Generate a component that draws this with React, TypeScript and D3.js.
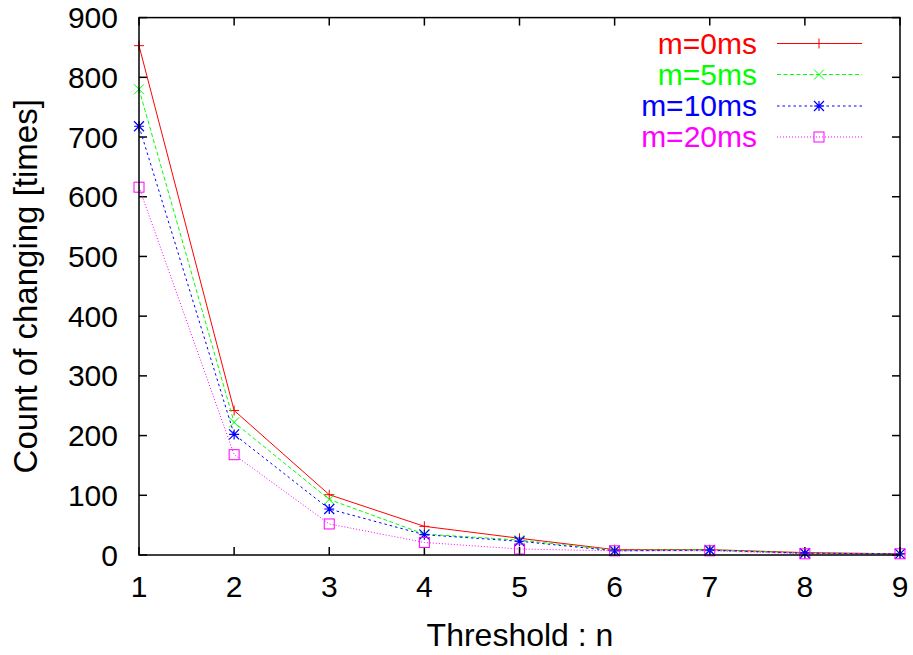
import React from "react";
import * as d3 from "d3";

const thresholds = [1, 2, 3, 4, 5, 6, 7, 8, 9];
const m0 = [853, 242, 101, 48, 28, 9, 9, 4, 2];
const m5 = [780, 222, 93, 35, 25, 8, 9, 3, 2];
const m10 = [718, 202, 77, 34, 23, 7, 8, 3, 2];
const m20 = [616, 168, 52, 21, 10, 7, 7, 2, 2];
const seriesNames = ["m=0ms", "m=5ms", "m=10ms", "m=20ms"];
const yTicks = [0, 100, 200, 300, 400, 500, 600, 700, 800, 900];

const W = 913, H = 655;
const L = 139, R = 900, T = 17.6, B = 555;

const styles = [
  { color: "#ff0000", dash: "none", marker: "plus" },
  { color: "#00ff00", dash: "4,2.5", marker: "cross" },
  { color: "#0000ff", dash: "2.5,3", marker: "star" },
  { color: "#ff00ff", dash: "1,2", marker: "square" },
];

function Marker({ x, y, type, color }: { x: number; y: number; type: string; color: string }) {
  const s = 5;
  if (type === "plus")
    return <path d={`M${x - s},${y}H${x + s}M${x},${y - s}V${y + s}`} stroke={color} strokeWidth={1} fill="none" />;
  if (type === "cross")
    return <path d={`M${x - s},${y - s}L${x + s},${y + s}M${x - s},${y + s}L${x + s},${y - s}`} stroke={color} strokeWidth={1} fill="none" />;
  if (type === "star")
    return (
      <path
        d={`M${x - s},${y}H${x + s}M${x},${y - s}V${y + s}M${x - s},${y - s}L${x + s},${y + s}M${x - s},${y + s}L${x + s},${y - s}`}
        stroke={color}
        strokeWidth={1.2}
        fill="none"
      />
    );
  return <rect x={x - 5} y={y - 5} width={10} height={10} stroke={color} strokeWidth={1} fill="none" />;
}

export default function App() {
  const x = d3.scaleLinear().domain([1, 9]).range([L, R]);
  const y = d3.scaleLinear().domain([0, 900]).range([B, T]);
  const data = [m0, m5, m10, m20];
  const line = d3
    .line<number>()
    .x((_, i) => x(thresholds[i]))
    .y((d) => y(d));
  const font = "'Liberation Sans', Arial, sans-serif";
  const tl = 8;
  const legendY = [43.5, 74.5, 106, 137];

  return (
    <svg width={W} height={H} style={{ position: "absolute", left: 0, top: 0, background: "#fff" }} fontFamily={font}>
      <rect width={W} height={H} fill="#fff" />
      {/* ticks */}
      {yTicks.map((t) => (
        <g key={"y" + t}>
          <line x1={L} x2={L + tl} y1={y(t)} y2={y(t)} stroke="#000" strokeWidth={1.5} />
          <line x1={R} x2={R - tl} y1={y(t)} y2={y(t)} stroke="#000" strokeWidth={1.5} />
          <text x={118} y={y(t) + 10.5} fontSize={30} textAnchor="end">
            {t}
          </text>
        </g>
      ))}
      {thresholds.map((t) => (
        <g key={"x" + t}>
          <line x1={x(t)} x2={x(t)} y1={B} y2={B - tl} stroke="#000" strokeWidth={1.5} />
          <line x1={x(t)} x2={x(t)} y1={T} y2={T + tl} stroke="#000" strokeWidth={1.5} />
          <text x={x(t)} y={597} fontSize={30} textAnchor="middle">
            {t}
          </text>
        </g>
      ))}
      {/* series */}
      {data.map((d, si) => (
        <g key={si}>
          <path d={line(d) || ""} fill="none" stroke={styles[si].color} strokeWidth={1} strokeDasharray={styles[si].dash} />
          {d.map((v, i) => (
            <Marker key={i} x={x(thresholds[i])} y={y(v)} type={styles[si].marker} color={styles[si].color} />
          ))}
        </g>
      ))}
      {/* legend */}
      {seriesNames.map((n, si) => (
        <g key={n}>
          <text x={757} y={legendY[si] + 10} fontSize={30} textAnchor="end" fill={styles[si].color}>
            {n}
          </text>
          <line x1={777} x2={862} y1={legendY[si]} y2={legendY[si]} stroke={styles[si].color} strokeWidth={1} strokeDasharray={styles[si].dash} />
          <Marker x={819} y={legendY[si]} type={styles[si].marker} color={styles[si].color} />
        </g>
      ))}
      {/* frame */}
      <rect x={L} y={T} width={R - L} height={B - T} fill="none" stroke="#000" strokeWidth={1.5} />
      {/* axis labels */}
      <text x={520} y={646} fontSize={32} textAnchor="middle">
        Threshold : n
      </text>
      <text transform={`translate(37,${(T + B) / 2}) rotate(-90)`} fontSize={33} textAnchor="middle">
        Count of changing [times]
      </text>
    </svg>
  );
}
